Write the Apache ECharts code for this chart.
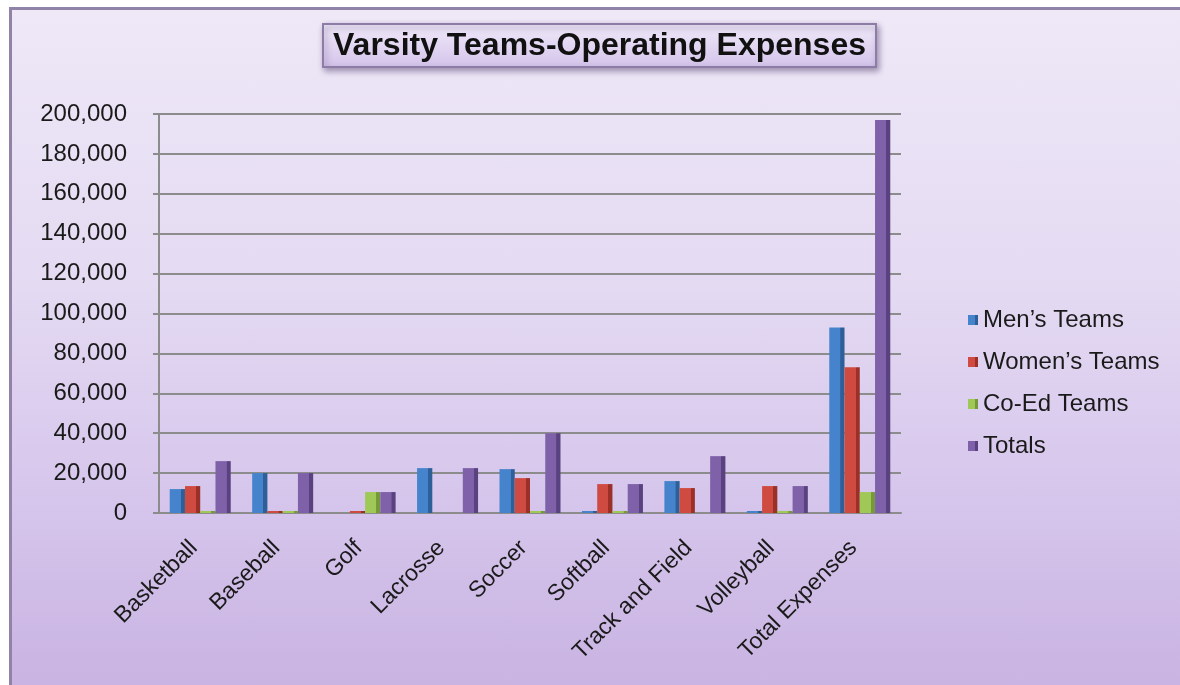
<!DOCTYPE html>
<html>
<head>
<meta charset="utf-8">
<script src="https://cdn.jsdelivr.net/npm/echarts@6/dist/echarts.min.js"></script>
<style>
  html, body { margin: 0; padding: 0; background: #ffffff; width: 1180px; height: 685px; overflow: hidden; }
  #frame { position: absolute; left: 9px; top: 7px; width: 1180px; height: 690px;
    border-left: 3px solid #9183a8; border-top: 3px solid #9183a8;
    background: linear-gradient(to bottom, #eee8f7 0%, #e4daf2 40%, #d6c6ec 70%, #c8b2e1 100%); }
  #chart { position: absolute; left: 0; top: 0; width: 1180px; height: 685px; }
</style>
</head>
<body>
<div id="frame"></div>
<div id="chart"></div>
<script>
const categories = ['Basketball', 'Baseball', 'Golf', 'Lacrosse', 'Soccer', 'Softball', 'Track and Field', 'Volleyball', 'Total Expenses'];
const seriesNames = ['Men\u2019s Teams', 'Women\u2019s Teams', 'Co-Ed Teams', 'Totals'];
const mensTeams   = [12000, 20000, null, 22500, 22000, 0, 16000, 0, 93000];
const womensTeams = [13500, 0, 0, null, 17500, 14500, 12500, 13500, 73000];
const coEdTeams   = [0, 0, 10500, null, 0, 0, null, 0, 10500];
const totals      = [26000, 20000, 10500, 22500, 40000, 14500, 28500, 13500, 197000];
const yTicks = [0, 20000, 40000, 60000, 80000, 100000, 120000, 140000, 160000, 180000, 200000];

const colors = ['#4584cc', '#cf4b42', '#9fc856', '#7f61a9'];
const darks  = ['#2f5f99', '#9b3029', '#769a39', '#5a4180'];

function barColor(i) {
  return new echarts.graphic.LinearGradient(0, 0, 1, 0, [
    { offset: 0, color: colors[i] },
    { offset: 0.72, color: colors[i] },
    { offset: 0.74, color: darks[i] },
    { offset: 1, color: darks[i] }
  ]);
}

const font = 'Liberation Sans, Arial, sans-serif';
const dataSets = [mensTeams, womensTeams, coEdTeams, totals];
const chart = echarts.init(document.getElementById('chart'), null, { renderer: 'canvas' });
chart.setOption({
  animation: false,
  color: colors,
  title: {
    text: 'Varsity Teams-Operating Expenses',
    left: 323, top: 24,
    padding: [6, 10, 5, 10],
    backgroundColor: new echarts.graphic.LinearGradient(0, 0, 0, 1, [
      { offset: 0, color: '#f1ebfa' }, { offset: 1, color: '#d3c3ea' }
    ]),
    borderColor: '#8c7ca6', borderWidth: 2,
    shadowBlur: 6, shadowColor: 'rgba(60,40,90,0.45)', shadowOffsetX: 2, shadowOffsetY: 3,
    textStyle: { fontFamily: font, fontSize: 32, fontWeight: 'bold', color: '#111' }
  },
  legend: {
    orient: 'vertical', left: 963, top: 303,
    icon: 'rect', itemWidth: 10, itemHeight: 10, itemGap: 18,
    data: seriesNames,
    textStyle: { fontFamily: font, fontSize: 24, color: '#1a1a1a' }
  },
  grid: { left: 159, right: 279, top: 114, bottom: 172, containLabel: false },
  xAxis: {
    type: 'category', data: categories,
    axisLine: { show: true, lineStyle: { color: '#8c8c8c', width: 2 } },
    axisTick: { show: false },
    axisLabel: { rotate: 45, margin: 25, padding: [0, 9, 0, 0], interval: 0, fontFamily: font, fontSize: 23, color: '#1a1a1a' }
  },
  yAxis: {
    type: 'value', min: yTicks[0], max: yTicks[yTicks.length - 1], interval: yTicks[1] - yTicks[0],
    axisLine: { show: true, lineStyle: { color: '#8c8c8c', width: 2 } },
    axisTick: { show: true, length: 6, lineStyle: { color: '#8c8c8c', width: 2 } },
    splitLine: { lineStyle: { color: '#8c8c8c', width: 2 } },
    axisLabel: { margin: 32, fontFamily: font, fontSize: 24, color: '#1a1a1a',
      formatter: v => v.toLocaleString('en-US') }
  },
  series: dataSets.map((d, i) => ({
    name: seriesNames[i], type: 'bar', data: d.map(v => v === null ? '-' : v),
    barGap: '0%', barCategoryGap: '26%', barMinHeight: 2,
    itemStyle: { color: barColor(i) }
  }))
});
</script>
</body>
</html>
